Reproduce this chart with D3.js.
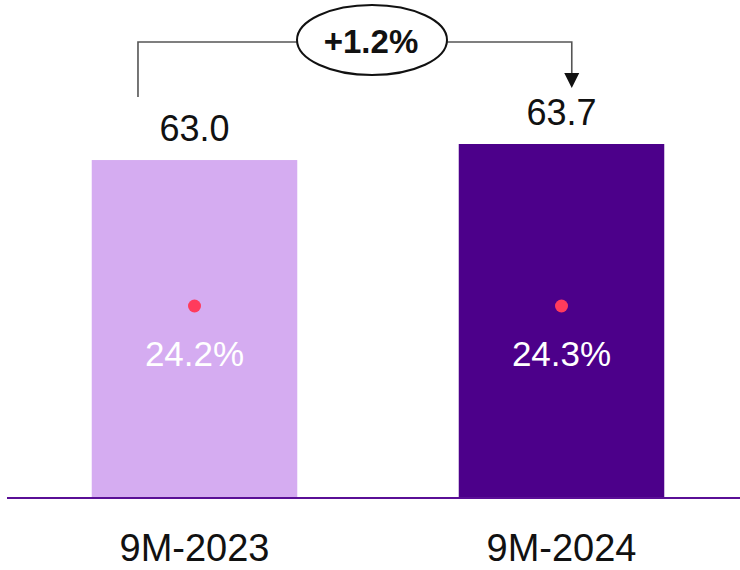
<!DOCTYPE html>
<html>
<head>
<meta charset="utf-8">
<script src="https://cdn.jsdelivr.net/npm/d3@7"></script>
<style>
  html, body { margin: 0; padding: 0; background: #fff; }
  svg { display: block; }
  text { font-family: "Liberation Sans", Arial, sans-serif; }
</style>
</head>
<body>
<svg id="chart" width="740" height="570"></svg>
<script>
// ---- data ----
const categories = ["9M-2023", "9M-2024"];
const values = [63.0, 63.7];
const valueLabels = ["63.0", "63.7"];
const margins = ["24.2%", "24.3%"];
const growthLabel = "+1.2%";

const barColors = ["#D5ACF1", "#4C008A"];

const W = 740, H = 570;
const svg = d3.select("#chart");

const x = d3.scaleBand()
  .domain(categories)
  .range([11, 745])
  .paddingInner(0.44)
  .paddingOuter(0.22);

const baseY = 497;
const y = d3.scaleLinear()
  .domain([48.3, 63.7])
  .range([baseY, 144]);

const bw = x.bandwidth();

// bars
svg.selectAll("rect.bar")
  .data(categories)
  .enter().append("rect")
  .attr("class", "bar")
  .attr("x", d => x(d))
  .attr("y", (d, i) => y(values[i]))
  .attr("width", bw)
  .attr("height", (d, i) => baseY - y(values[i]))
  .attr("fill", (d, i) => barColors[i]);

// baseline
svg.append("line")
  .attr("x1", 7).attr("x2", 740)
  .attr("y1", baseY + 1).attr("y2", baseY + 1)
  .attr("stroke", "#5A0F96").attr("stroke-width", 2);

// value labels
svg.selectAll("text.val")
  .data(categories)
  .enter().append("text")
  .attr("class", "val")
  .attr("x", d => x(d) + bw / 2)
  .attr("y", (d, i) => y(values[i]) - 19)
  .attr("text-anchor", "middle")
  .attr("font-size", 36)
  .attr("fill", "#111")
  .text((d, i) => valueLabels[i]);

// dots
svg.selectAll("circle.dot")
  .data(categories)
  .enter().append("circle")
  .attr("class", "dot")
  .attr("cx", d => x(d) + bw / 2)
  .attr("cy", baseY - 191)
  .attr("r", 6.5)
  .attr("fill", "#FF3B5C");

// margin labels
svg.selectAll("text.margin")
  .data(categories)
  .enter().append("text")
  .attr("class", "margin")
  .attr("x", d => x(d) + bw / 2)
  .attr("y", baseY - 131)
  .attr("text-anchor", "middle")
  .attr("font-size", 35)
  .attr("fill", "#fff")
  .text((d, i) => margins[i]);

// category labels
svg.selectAll("text.cat")
  .data(categories)
  .enter().append("text")
  .attr("class", "cat")
  .attr("x", d => x(d) + bw / 2)
  .attr("y", 561)
  .attr("text-anchor", "middle")
  .attr("font-size", 38)
  .attr("fill", "#111")
  .text(d => d);

// growth bracket
const lx = x(categories[0]) + bw * 0.225;
const rx = x(categories[1]) + bw * 0.55;
const topY = 42;
const ecx = 372;
const ecy = 40;
const erx = 75, ery = 35;

svg.append("path")
  .attr("d", `M${lx},${y(values[0]) - 63} V${topY} H${ecx - erx}`)
  .attr("fill", "none").attr("stroke", "#555").attr("stroke-width", 1.6);
svg.append("path")
  .attr("d", `M${ecx + erx},${topY} H${rx} V${y(values[1]) - 66}`)
  .attr("fill", "none").attr("stroke", "#555").attr("stroke-width", 1.6);
const tipY = y(values[1]) - 56;
svg.append("path")
  .attr("d", `M${rx - 7.5},${tipY - 15} L${rx + 7.5},${tipY - 15} L${rx},${tipY} Z`)
  .attr("fill", "#111");

svg.append("ellipse")
  .attr("cx", ecx).attr("cy", ecy)
  .attr("rx", erx).attr("ry", ery)
  .attr("fill", "#fff").attr("stroke", "#111").attr("stroke-width", 2);

svg.append("text")
  .attr("x", ecx - 1).attr("y", 53)
  .attr("text-anchor", "middle")
  .attr("font-size", 33)
  .attr("font-weight", "bold")
  .attr("fill", "#111")
  .text(growthLabel);
</script>
</body>
</html>
